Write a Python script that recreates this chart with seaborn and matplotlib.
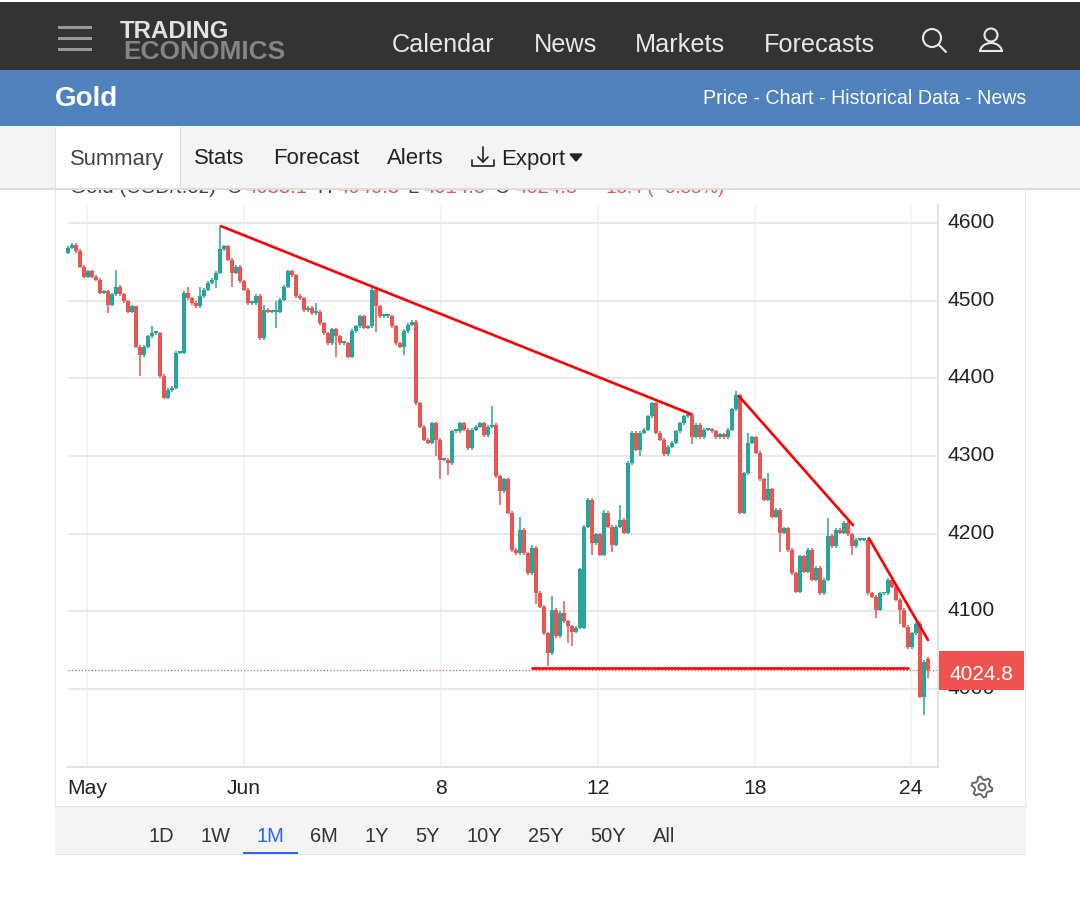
import numpy as np
import matplotlib
matplotlib.use("Agg")
import matplotlib.pyplot as plt
from matplotlib.patches import Rectangle, Circle, Polygon, Arc
from matplotlib.transforms import ScaledTranslation
import seaborn as sns

# Closing prices, one candle every 4 px
close = [
    4568, 4572, 4564, 4544, 4531, 4538, 4531, 4527, 4510, 4512, 4495, 4508, 4518, 4508, 4499, 4486,
    4493, 4441, 4430, 4441, 4454, 4458, 4458, 4403, 4375, 4385, 4388, 4433, 4433, 4510, 4503, 4497,
    4493, 4506, 4514, 4523, 4527, 4536, 4566, 4570, 4553, 4536, 4544, 4525, 4514, 4497, 4497, 4506,
    4452, 4488, 4486, 4486, 4486, 4501, 4518, 4538, 4533, 4506, 4503, 4488, 4491, 4484, 4486, 4471,
    4458, 4445, 4463, 4454, 4445, 4445, 4428, 4461, 4467, 4480, 4465, 4467, 4514, 4493, 4480, 4480,
    4480, 4467, 4445, 4441, 4461, 4469, 4473,
    4368, 4338, 4321, 4317, 4342, 4321, 4295, 4295, 4291, 4332, 4332, 4342, 4334, 4310, 4334, 4338,
    4342, 4327, 4338, 4340, 4274, 4255, 4270, 4227, 4179, 4175, 4205, 4175, 4149, 4182, 4124, 4106,
    4072, 4046, 4102, 4068, 4098, 4087, 4081, 4074, 4079, 4154, 4209, 4244, 4188, 4199, 4173, 4227,
    4209, 4186, 4209, 4218, 4201, 4291, 4330, 4308, 4330, 4334, 4351, 4368, 4330, 4321, 4302, 4312,
    4317, 4332, 4342, 4351, 4353, 4325, 4340,
    4324, 4334, 4334, 4332, 4324, 4328, 4324, 4334, 4360, 4378, 4227, 4278, 4317, 4324, 4304, 4270,
    4244, 4257, 4222, 4231, 4201, 4207, 4179, 4149, 4125, 4171, 4151, 4179, 4141, 4156, 4123, 4141,
    4197, 4184, 4205, 4201, 4214, 4199, 4184, 4192, 4192, 4192, 4123, 4119, 4102, 4123, 4123, 4141,
    4132, 4115, 4102, 4080, 4054, 4072, 4084, 3990, 4035, 4024.8,
]
first_open = 4562
open_gaps = {129: 4079, 215: 4038.1}
long_highs = {12: 4540, 17: 4467, 21: 4467, 30: 4518, 33: 4518, 38: 4596, 49: 4495, 52: 4499, 62: 4497,
              106: 4365, 113: 4222, 116: 4186, 121: 4120, 124: 4113, 134: 4231, 138: 4237, 146: 4370,
              167: 4384, 170: 4330, 175: 4278, 185: 4181, 190: 4220, 215: 4040.8}
long_lows = {10: 4484, 18: 4403, 37: 4516, 41: 4518, 52: 4465, 67: 4428, 77: 4460, 84: 4430,
             92: 4300, 93: 4270, 95: 4276, 108: 4237, 117: 4109, 120: 4029, 125: 4059, 126: 4055,
             131: 4173, 136: 4177, 143: 4300, 156: 4315, 178: 4177, 182: 4123, 188: 4121, 196: 4173,
             202: 4092, 208: 4084, 210: 4052, 214: 3966, 215: 4014.8}

price_ticks = [4000, 4100, 4200, 4300, 4400, 4500, 4600]
date_ticks = [4.75, 44, 93.25, 132.5, 171.75, 210.75]
date_labels = ["May", "Jun", "8", "12", "18", "24"]
last_price = 4024.8

trend_lines = [
    ([38.25, 155.75], [4596, 4354]),
    ([167.75, 196.25], [4377, 4211]),
    ([200.25, 215], [4194, 4063]),
    ([116, 210], [4026.6, 4026.6]),
]

nav_top = ["Calendar", "News", "Markets", "Forecasts"]
nav_top_x = [392, 534, 635, 764]
tabs = ["Stats", "Forecast", "Alerts", "Export"]
tabs_x = [194, 273, 387, 501]
ranges = ["1D", "1W", "1M", "6M", "1Y", "5Y", "10Y", "25Y", "50Y", "All"]
ranges_x = [161, 215, 270, 324, 377, 428, 484, 546, 608, 664]

UP = "#26a69a"
DOWN = "#ef5350"

sns.set_theme(style="white")
plt.rcParams["font.family"] = ["Liberation Sans", "DejaVu Sans"]

fig = plt.figure(figsize=(10.8, 9), dpi=100)
fig.patch.set_facecolor("white")

# price chart
ax = fig.add_axes([68 / 1080, 133 / 900, 870 / 1080, 562 / 900])
ax.set_xlim(0, 217.5)
ax.set_ylim(3899.6, 4623.2)
ax.set_facecolor("white")
ax.set_axisbelow(True)
ax.grid(True, axis="y", color="#e9e9e9", lw=1.4)
ax.grid(True, axis="x", color="#eef3f8", lw=1.1)
for s in ["top", "left"]:
    ax.spines[s].set_visible(False)
for s in ["right", "bottom"]:
    ax.spines[s].set_color("#e3e3e3")
    ax.spines[s].set_linewidth(1.4)
ax.yaxis.tick_right()
ax.set_yticks(price_ticks)
ax.set_yticklabels([str(p) for p in price_ticks])
ax.set_xticks(date_ticks)
ax.set_xticklabels(date_labels)
ax.tick_params(axis="both", length=0, labelsize=15.2, labelcolor="#222222")
ax.tick_params(axis="y", pad=6.5)
ax.tick_params(axis="x", pad=9)
# labels sit a little above their grid lines
for t in ax.get_yticklabels():
    t.set_transform(t.get_transform() + ScaledTranslation(0, 2.5 / 100, fig.dpi_scale_trans))

prev = first_open
for i, c in enumerate(close):
    o = open_gaps.get(i, prev)
    col = UP if c >= o else DOWN
    hi = long_highs.get(i, max(o, c) + 2)
    lo = long_lows.get(i, min(o, c) - 2)
    ax.vlines(i, lo, hi, color=col, lw=1.1, zorder=3, clip_on=False)
    ax.bar(i, max(abs(c - o), 2.5), bottom=min(o, c), width=1.0, color=col, lw=0, zorder=3, clip_on=False)
    prev = c

sns.lineplot(x=[0, 217.5], y=[last_price, last_price], ax=ax, color=DOWN, lw=0.9, ls=":", zorder=2, errorbar=None)
for xs, ys in trend_lines:
    sns.lineplot(x=xs, y=ys, ax=ax, color="#ff0000", lw=1.9, zorder=4, errorbar=None, sort=False)

# page around the chart, in pixels
ui = fig.add_axes([0, 0, 1, 1], zorder=5)
ui.set_xlim(0, 1080)
ui.set_ylim(900, 0)
ui.axis("off")
ui.patch.set_alpha(0)

def box(x, y, w, h, color, z=1, **kw):
    ui.add_patch(Rectangle((x, y), w, h, facecolor=color, edgecolor="none", zorder=z, **kw))

def label(x, y, s, size=15, color="#222222", ha="left", z=5, **kw):
    ui.text(x, y + 2, s, fontsize=size, color=color, ha=ha, va="center", zorder=z, **kw)

# legend line, cut off by the nav band
header = [(70, "Gold (USD/t.oz)", "#444444", 14.9), (227, "O", "#444444", 14.6), (245, "4038.1", DOWN, 14.6),
          (317, "H", "#444444", 14.6), (337, "4040.8", DOWN, 14.6), (407, "L", "#444444", 14.6),
          (423, "4014.8", DOWN, 14.6), (495, "C", "#444444", 14.6), (515, "4024.8", DOWN, 14.6),
          (600, "-13.4 ( -0.33%)", DOWN, 13.4)]
for x, s, col, fs in header:
    ui.text(x, 193, s, fontsize=fs, color=col, va="baseline", zorder=1)

box(0, 0, 1080, 70, "#333333", 2)
box(0, 0, 1080, 1.5, "#ffffff", 2)
box(0, 70, 1080, 56, "#4f81bd", 2)
box(0, 126, 1080, 62, "#f4f4f4", 2)
box(0, 188, 1080, 1.5, "#dddddd", 2)
box(55, 127, 125, 61, "#ffffff", 3)
box(179.5, 127, 1, 61, "#dddddd", 3)
box(55, 127, 1, 61, "#e4e4e4", 3)
box(55, 189, 1, 666, "#e8e8e8", 2)
box(1025, 189, 1, 666, "#e8e8e8", 2)
box(55, 807, 971, 47, "#f4f4f4", 2)
box(55, 806, 971, 1, "#e4e4e4", 2)
box(55, 854, 971, 1, "#e4e4e4", 2)

for y in [27, 38, 49]:
    box(58, y - 1.5, 34, 3, "#999999", 3)
ui.text(120, 31, "TRADING", fontsize=17.3, fontweight="bold", color="#e2e2e2", va="center", zorder=4)
ui.text(123, 52, "ECONOMICS", fontsize=18.9, fontweight="bold", color="#858585", va="center", zorder=4)
for x, s in zip(nav_top_x, nav_top):
    label(x, 43, s, 18.2, "#e8e8e8")

# search and user icons
ui.add_patch(Circle((932, 38), 9, fill=False, ec="#e8e8e8", lw=1.5, zorder=4))
ui.plot([939, 946], [45, 52], color="#e8e8e8", lw=1.5, zorder=4)
ui.add_patch(Circle((991, 35), 6.5, fill=False, ec="#e8e8e8", lw=1.5, zorder=4))
ui.add_patch(Arc((991, 52), 22, 18, theta1=180, theta2=360, ec="#e8e8e8", lw=1.5, zorder=4))
ui.plot([980, 1002], [51, 51], color="#e8e8e8", lw=1.5, zorder=4)

label(55, 97, "Gold", 20, "white", fontweight="bold")
label(1026, 97, "Price - Chart - Historical Data - News", 14.1, "white", ha="right")

label(70, 157, "Summary", 15.8, "#444444")
for x, s in zip(tabs_x, tabs):
    label(x, 157, s, 15.9, "#222222")
# export icon and caret
ui.plot([483, 483], [147, 162], color="#222222", lw=1.2, zorder=4)
ui.plot([478, 483, 488], [157, 162, 157], color="#222222", lw=1.2, zorder=4)
ui.plot([472, 472, 494, 494], [160, 166, 166, 160], color="#222222", lw=1.2, zorder=4)
ui.add_patch(Polygon([(570, 154), (582, 154), (576, 161)], color="#222222", zorder=4))

# last price tag sits over the 4000 label
box(939, 651, 85, 39, DOWN, 4)
label(981.5, 673, "4024.8", 15, "white", ha="center")

# settings gear
ang = np.deg2rad(np.arange(0, 360, 15) + 7.5)
rad = np.tile([10.5, 10.5, 7.5, 7.5], 6)
ui.add_patch(Polygon(np.c_[982 + rad * np.cos(ang), 787 + rad * np.sin(ang)], fill=False, ec="#666666", lw=1.4, zorder=4))
ui.add_patch(Circle((982, 787), 3.5, fill=False, ec="#666666", lw=1.4, zorder=4))

for x, s in zip(ranges_x, ranges):
    label(x, 835, s, 14.4, "#2962ff" if s == "1M" else "#333333", ha="center")
box(243, 852, 55, 2, "#2962ff", 4)

fig.savefig("out.png", dpi=100)
